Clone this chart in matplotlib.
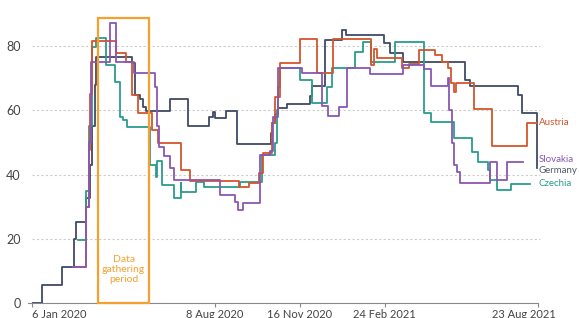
import matplotlib
matplotlib.use("Agg")
import matplotlib.pyplot as plt
import matplotlib.transforms as mtransforms
from matplotlib.patches import Rectangle
import pandas as pd

plt.rcParams['font.family'] = ['Lato', 'DejaVu Sans']

start = pd.Timestamp("2020-01-06")

# step series: day offset from 6 Jan 2020, stringency value
germany_days = [0, 12, 18, 36, 50, 52, 62, 64, 68, 71, 74, 76, 118, 121, 127, 131, 134, 163, 184,
                208, 213, 216, 229, 241, 281, 283, 286, 290, 300, 327, 329, 345, 365, 369, 414,
                421, 437, 510, 515, 572, 576, 594]
germany_vals = [0, 5.6, 5.6, 11.1, 20, 25.1, 25.1, 32.7, 43, 55, 68, 76.7, 74.7, 64.8, 63.5, 61.2,
                59.9, 63.5, 55.1, 57.8, 59.5, 57.5, 59.9, 49.5, 53, 56, 58.9, 60.6, 61.9, 64.5,
                67.6, 81.9, 85, 83.5, 80.9, 77.8, 75.2, 69.5, 67.6, 64.8, 59.3, 42]

austria_days = [49, 62, 64, 67, 69, 71, 99, 111, 118, 125, 142, 148, 176, 186, 244, 255, 267, 272,
                283, 286, 292, 316, 335, 354, 399, 402, 406, 435, 444, 455, 474, 482, 490, 493,
                497, 499, 520, 541, 582, 594]
austria_vals = [11.1, 11.1, 30, 47.7, 65, 81.6, 77.8, 75.2, 64.8, 59.1, 54, 49.9, 41.4, 38.1, 36.2,
                37.3, 40.4, 46.6, 56, 64.3, 74.9, 82.1, 71.5, 82.1, 74.1, 79, 76.2, 73.1, 74.5,
                78.8, 77.3, 75.2, 73.1, 68.4, 65.8, 68.4, 60.3, 49.0, 56.0, 56.0]

slovakia_days = [49, 62, 64, 67, 70, 92, 99, 120, 145, 147, 150, 155, 163, 167, 221, 239, 243,
                 249, 269, 280, 284, 290, 318, 341, 348, 361, 371, 398, 437, 461, 469, 490, 491,
                 494, 496, 500, 504, 539, 547, 559, 578]
slovakia_vals = [11.1, 11.1, 30, 50, 75.2, 87.1, 75.2, 71.5, 67.4, 55, 48.7, 45.9, 42, 38.3, 33.6,
                 31.6, 29, 31.2, 46.1, 47.4, 58, 73.1, 71.5, 61.4, 58.3, 61.2, 73.1, 71.3, 74.1,
                 72.9, 67.6, 70, 60.1, 49.7, 43, 40.9, 37.3, 43.8, 38.3, 43.8, 43.8]

czechia_days = [54, 62, 64, 67, 71, 76, 87, 98, 104, 107, 112, 139, 146, 147, 153, 167, 175, 176,
                193, 202, 245, 271, 286, 288, 290, 292, 316, 329, 347, 353, 380, 390, 399, 427,
                461, 469, 496, 518, 525, 537, 539, 547, 564, 586]
czechia_vals = [19.6, 19.6, 35, 55, 79.8, 82.5, 74.1, 68.9, 58, 57, 54.7, 43, 39.3, 44.3, 36.8,
                32.6, 37.3, 34.7, 37.6, 36.2, 37.8, 46.1, 49.7, 60, 67.4, 73.1, 69.5, 62.2, 67.4,
                73.1, 78.3, 81.4, 75.2, 81.4, 59.1, 56.5, 51.3, 47.1, 44, 41.4, 38.3, 35.2, 37.1,
                37.1]

countries = ["Austria", "Slovakia", "Germany", "Czechia"]
label_vals = [56.2, 44.8, 41.2, 37.3]
colors = ["#d2552c", "#8a57b3", "#3f4a66", "#2b9d8c"]
label_colors = ["#d2552c", "#8a57b3", "#555b66", "#2b9d8c"]

tick_dates = ["2020-01-06", "2020-08-08", "2020-11-16", "2021-02-24", "2021-08-23"]
tick_labels = ["6 Jan 2020", "8 Aug 2020", "16 Nov 2020", "24 Feb 2021", "23 Aug 2021"]
period = ["2020-03-24", "2020-05-23"]

tick_days = [(pd.Timestamp(d) - start).days for d in tick_dates]
period_days = [(pd.Timestamp(d) - start).days for d in period]

fig = plt.figure(figsize=(5.79, 3.18), dpi=100)
ax = fig.add_axes([0.0548, 0.0472, 0.8739, 0.9085])

series = {
    "Austria": (austria_days, austria_vals),
    "Slovakia": (slovakia_days, slovakia_vals),
    "Germany": (germany_days, germany_vals),
    "Czechia": (czechia_days, czechia_vals),
}
order = ["Germany", "Czechia", "Austria", "Slovakia"]
for name in order:
    i = countries.index(name)
    d, v = series[name]
    ax.plot(d, v, drawstyle="steps-post", color=colors[i], lw=1.3, zorder=3)

for i, name in enumerate(countries):
    ax.text(596.5, label_vals[i], name, color=label_colors[i], fontsize=7.0, va="center",
            ha="left", clip_on=False)

# data gathering box
ax.add_patch(Rectangle((period_days[0], 0), period_days[1] - period_days[0], 88.9,
                       fill=False, edgecolor="#f5a130", lw=1.6, zorder=4, clip_on=False))
ax.text((period_days[0] + period_days[1]) / 2, 10.5, "Data\ngathering\nperiod",
        color="#f5a130", fontsize=7.5, ha="center", va="center", linespacing=1.15)

ax.set_xlim(0, 594)
ax.set_ylim(0, 90)
ax.set_yticks([0, 20, 40, 60, 80])
for y in [20, 40, 60, 80]:
    ax.axhline(y, color="#cccccc", lw=0.8, ls=(0, (2, 2)), zorder=1, xmax=1.005, clip_on=False)

ax.set_xticks(tick_days)
ax.set_xticklabels(tick_labels)
for sp in ["top", "right", "left"]:
    ax.spines[sp].set_visible(False)
ax.spines["bottom"].set_color("#888888")
ax.spines["bottom"].set_linewidth(0.8)
ax.tick_params(axis="x", length=3, color="#888888", labelsize=8, labelcolor="#444444", pad=1)
ax.tick_params(axis="y", length=0, labelsize=9, labelcolor="#444444", pad=8)

labs = ax.get_xticklabels()
labs[0].set_ha("left")
offset = mtransforms.ScaledTranslation(-14 / 100, 0, fig.dpi_scale_trans)
labs[-1].set_transform(labs[-1].get_transform() + offset)

ax.plot([-4, 0], [0, 0], color="#888888", lw=0.8, clip_on=False)

fig.savefig("out.png", dpi=100)
